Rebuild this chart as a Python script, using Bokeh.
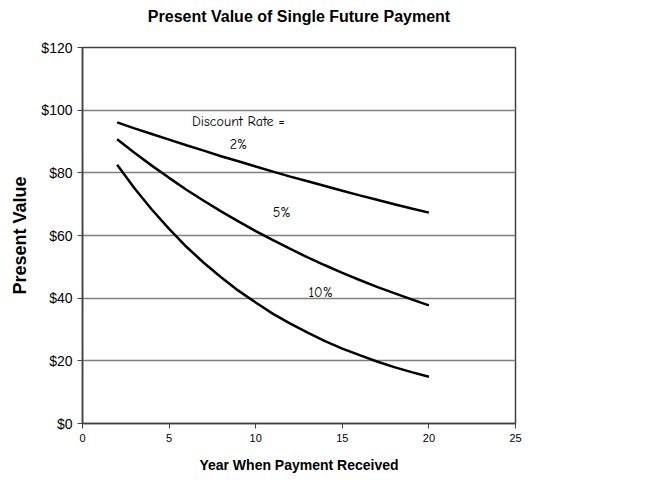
from bokeh.plotting import figure
from bokeh.embed import file_html
from bokeh.resources import INLINE
from bokeh.models import Range1d, NumeralTickFormatter, FixedTicker, Label, Title

years = [2, 3, 4, 5, 6, 7, 8, 9, 10, 11, 12, 13, 14, 15, 16, 17, 18, 19, 20]
pv_2 = [96.1, 94.2, 92.4, 90.6, 88.8, 87.1, 85.3, 83.7, 82.0, 80.4, 78.8, 77.3, 75.8, 74.3, 72.8, 71.4, 70.0, 68.6, 67.3]
pv_5 = [90.7, 86.4, 82.3, 78.4, 74.6, 71.1, 67.7, 64.5, 61.4, 58.5, 55.7, 53.0, 50.5, 48.1, 45.8, 43.6, 41.6, 39.6, 37.7]
pv_10 = [82.6, 75.1, 68.3, 62.1, 56.4, 51.3, 46.7, 42.4, 38.6, 35.0, 31.9, 29.0, 26.3, 23.9, 21.8, 19.8, 18.0, 16.4, 14.9]
labels = ["Discount Rate =", "2%", "5%", "10%"]
label_x = [9.0, 9.0, 11.5, 13.75]
label_y = [96.4, 89.1, 67.2, 41.7]
x_ticks = [0, 5, 10, 15, 20, 25]
y_ticks = [0, 20, 40, 60, 80, 100, 120]
title_text = "Present Value of Single Future Payment"

p = figure(width=650, height=480, output_backend="svg", toolbar_location=None,
           x_range=Range1d(0, 25), y_range=Range1d(0, 120),
           min_border_left=82, min_border_right=135, min_border_top=46, min_border_bottom=57)

p.title.text = title_text
p.title.align = "center"
p.title.text_font = "Liberation Sans"
p.title.text_font_size = "16px"
p.title.text_font_style = "bold"
p.title.text_color = "black"
# empty spacer between title and frame
p.add_layout(Title(text=" ", text_font_size="5px"), "above")

for ys in (pv_2, pv_5, pv_10):
    p.line(years, ys, line_color="black", line_width=2.5)

for t, x, y in zip(labels, label_x, label_y):
    p.add_layout(Label(x=x, y=y, text=t, text_align="center", text_baseline="middle",
                       text_font="Comic Neue", text_font_size="14px", text_color="black"))

p.xaxis.ticker = FixedTicker(ticks=x_ticks)
p.yaxis.ticker = FixedTicker(ticks=y_ticks)
p.yaxis.formatter = NumeralTickFormatter(format="$0")
p.xaxis.axis_label = "Year When Payment Received"
p.yaxis.axis_label = "Present Value"
for ax in (p.xaxis, p.yaxis):
    ax.axis_label_text_font = "Liberation Sans"
    ax.axis_label_text_font_style = "bold"
    ax.axis_label_text_color = "black"
    ax.major_label_text_font = "Liberation Sans"
    ax.major_label_text_color = "black"
    ax.axis_line_color = "#404040"
    ax.axis_line_width = 1.5
    ax.major_tick_line_color = "#404040"
    ax.minor_tick_line_color = None
    ax.major_tick_out = 5
    ax.major_tick_in = 0
p.xaxis.axis_label_text_font_size = "14px"
p.yaxis.axis_label_text_font_size = "18px"
p.xaxis.major_label_text_font_size = "11px"
p.yaxis.major_label_text_font_size = "14px"
p.xaxis.axis_label_standoff = 12
p.yaxis.axis_label_standoff = 8
p.xgrid.grid_line_color = None
p.ygrid.grid_line_color = "#808080"
p.ygrid.grid_line_width = 1.5
p.outline_line_color = "#404040"
p.outline_line_width = 1.5
p.background_fill_color = "white"
p.border_fill_color = "white"

open("out.html", "w").write(file_html(p, INLINE))
